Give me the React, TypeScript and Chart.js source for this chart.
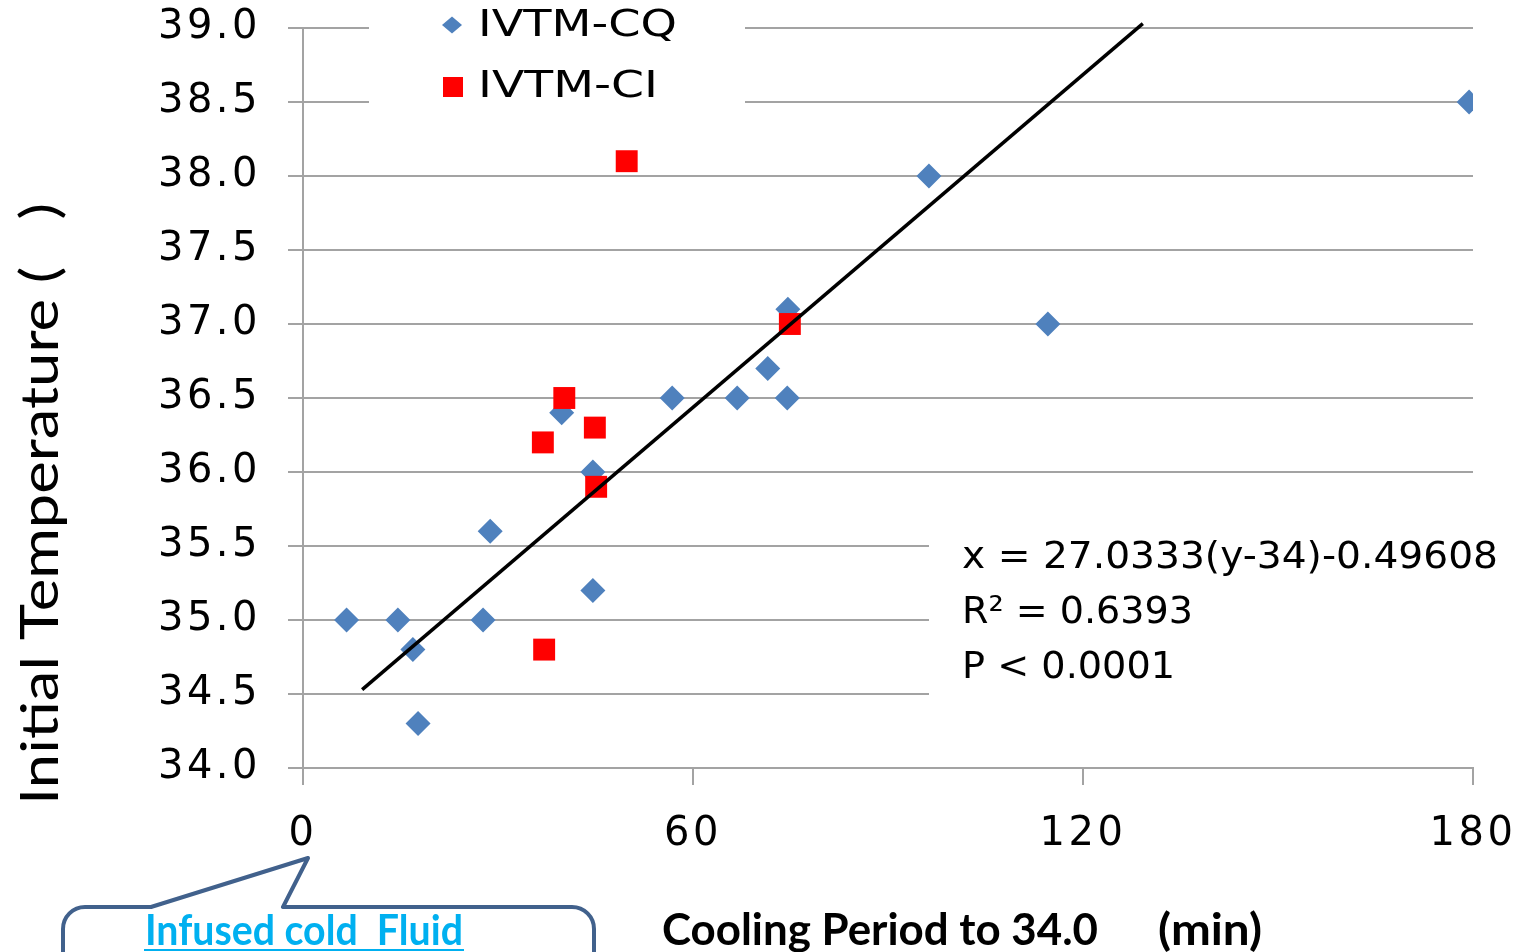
import React, { useEffect, useRef } from "react";
import { Chart, registerables } from "chart.js";

Chart.register(...registerables);

// IVTM-CQ (blue diamonds): cooling period (min) vs initial temperature
const cqX = [6.7, 14.6, 16.9, 17.7, 27.7, 28.8, 39.8, 44.6, 44.6, 56.8, 66.8, 71.5, 74.5, 74.6, 96.3, 114.6, 179.4];
const cqY = [35.0, 35.0, 34.8, 34.3, 35.0, 35.6, 36.4, 36.0, 35.2, 36.5, 36.5, 36.7, 36.5, 37.1, 38.0, 37.0, 38.5];
// IVTM-CI (red squares)
const ciX = [36.9, 40.2, 44.9, 45.1, 37.1, 49.8, 74.9];
const ciY = [36.2, 36.5, 36.3, 35.9, 34.8, 38.1, 37.0];
// regression line end points as drawn
const trendX = [9.1, 129.2];
const trendY = [34.53, 39.03];

const xTicks = [0, 60, 120, 180];
const yTicks = [34.0, 34.5, 35.0, 35.5, 36.0, 36.5, 37.0, 37.5, 38.0, 38.5, 39.0];

const seriesNames = ["IVTM-CQ", "IVTM-CI"];
const eqLines = ["x = 27.0333(y-34)-0.49608", "R\u00B2 = 0.6393", "P < 0.0001"];
const yTitle = "Initial Temperature (   )";
const xTitleMain = "Cooling Period to 34.0";
const xTitleUnit = "(min)";
const calloutText = "Infused cold  Fluid";

const BLUE = "#4f81bd";
const RED = "#ff0000";
const GRID = "#a3a3a3";

function fitText(ctx: CanvasRenderingContext2D, text: string, x: number, y: number, w: number) {
  const m = ctx.measureText(text).width;
  const s = w / m;
  ctx.save();
  ctx.translate(x, y);
  ctx.scale(s, 1);
  ctx.fillText(text, 0, 0);
  ctx.restore();
}

const decor = {
  id: "decor",
  beforeDraw(chart: any) {
    (chart.ctx as any).letterSpacing = "3.5px";
  },
  beforeDatasetsDraw(chart: any) {
    const ctx = chart.ctx as CanvasRenderingContext2D;
    ctx.save();
    ctx.fillStyle = "#ffffff";
    ctx.fillRect(369, 0, 376, 118);
    ctx.fillRect(929, 528, 594, 176);
    ctx.restore();
  },
  afterDraw(chart: any) {
    const ctx = chart.ctx as CanvasRenderingContext2D;
    ctx.save();
    (ctx as any).letterSpacing = "0px";
    ctx.fillStyle = "#000";
    ctx.textAlign = "left";

    // legend
    ctx.fillStyle = BLUE;
    ctx.beginPath();
    ctx.moveTo(442, 25);
    ctx.lineTo(452, 16.5);
    ctx.lineTo(462, 25);
    ctx.lineTo(452, 33.5);
    ctx.closePath();
    ctx.fill();
    ctx.fillStyle = RED;
    ctx.fillRect(443, 77, 20, 20);
    ctx.fillStyle = "#000";
    ctx.font = "38px 'DejaVu Sans'";
    ctx.textBaseline = "middle";
    fitText(ctx, seriesNames[0], 478, 26, 199);
    fitText(ctx, seriesNames[1], 478, 87, 180);

    // regression annotation
    ctx.font = "38px 'DejaVu Sans'";
    fitText(ctx, eqLines[0], 962, 558, 536);
    fitText(ctx, eqLines[1], 962, 613, 231);
    fitText(ctx, eqLines[2], 962, 668, 213);

    // y title (rotated)
    ctx.textBaseline = "alphabetic";
    ctx.font = "52px Lato";
    ctx.save();
    ctx.translate(58, 805);
    ctx.rotate(-Math.PI / 2);
    fitText(ctx, yTitle, 0, 0, 602);
    ctx.restore();

    // x title
    ctx.font = "bold 44px Lato";
    fitText(ctx, xTitleMain, 662, 945, 436);
    fitText(ctx, xTitleUnit, 1158, 945, 104);

    // callout bubble
    ctx.strokeStyle = "#41618c";
    ctx.lineWidth = 4;
    ctx.lineJoin = "round";
    ctx.beginPath();
    ctx.moveTo(63, 970);
    ctx.lineTo(63, 929);
    ctx.arcTo(63, 907, 85, 907, 22);
    ctx.lineTo(151, 907);
    ctx.lineTo(308, 858);
    ctx.lineTo(283, 907);
    ctx.lineTo(572, 907);
    ctx.arcTo(594, 907, 594, 929, 22);
    ctx.lineTo(594, 970);
    ctx.stroke();

    ctx.fillStyle = "#00b0f0";
    ctx.font = "bold 42px Lato";
    fitText(ctx, calloutText, 145, 945, 318);
    ctx.fillRect(144, 949, 320, 2);

    ctx.restore();
    (ctx as any).letterSpacing = "0px";
  },
};

export default function App() {
  const ref = useRef<HTMLCanvasElement>(null);
  useEffect(() => {
    document.body.style.margin = "0";
    const tickFont = { family: "'DejaVu Sans'", size: 40 };
    const chart = new Chart(ref.current as HTMLCanvasElement, {
      type: "scatter",
      data: {
        datasets: [
          {
            label: seriesNames[0],
            data: cqX.map((x, i) => ({ x, y: cqY[i] })),
            pointStyle: "rectRot",
            pointRadius: 12.5,
            backgroundColor: BLUE,
            borderColor: BLUE,
            borderWidth: 0,
            order: 2,
          },
          {
            label: seriesNames[1],
            data: ciX.map((x, i) => ({ x, y: ciY[i] })),
            pointStyle: "rect",
            pointRadius: 15.5,
            backgroundColor: RED,
            borderColor: RED,
            borderWidth: 0,
            order: 1,
          },
          {
            label: "trend",
            data: trendX.map((x, i) => ({ x, y: trendY[i] })),
            showLine: true,
            borderColor: "#000",
            borderWidth: 3.5,
            pointRadius: 0,
            clip: false,
            order: 0,
          } as any,
        ],
      },
      options: {
        responsive: false,
        animation: false,
        events: [],
        layout: { padding: { top: 28, right: 50, left: 0, bottom: 0 } },
        plugins: { legend: { display: false }, tooltip: { enabled: false } },
        scales: {
          x: {
            type: "linear",
            min: 0,
            max: 180,
            afterBuildTicks: (s: any) => {
              s.ticks = xTicks.map((v) => ({ value: v }));
            },
            afterFit: (s: any) => {
              s.height = 184;
              s.paddingLeft = 0;
              s.paddingRight = 0;
            },
            grid: { drawOnChartArea: false, color: GRID, lineWidth: 2, tickLength: 17 },
            border: { color: GRID, width: 2 },
            ticks: { font: tickFont, color: "#000", padding: 26, maxRotation: 0, autoSkip: false },
          },
          y: {
            type: "linear",
            min: 34,
            max: 39,
            afterBuildTicks: (s: any) => {
              s.ticks = yTicks.map((v) => ({ value: v }));
            },
            afterFit: (s: any) => {
              s.width = 303;
              s.paddingTop = 0;
              s.paddingBottom = 0;
            },
            grid: { color: GRID, lineWidth: 2, tickLength: 15 },
            border: { color: GRID, width: 2 },
            ticks: {
              font: tickFont,
              color: "#000",
              padding: 27,
              autoSkip: false,
              callback: (v: any) => Number(v).toFixed(1),
            },
          },
        },
      },
      plugins: [decor as any],
    });
    return () => chart.destroy();
  }, []);
  return (
    <div style={{ position: "absolute", left: 0, top: 0, width: 1523, height: 952, background: "#fff" }}>
      <canvas ref={ref} width={1523} height={952} style={{ display: "block" }} />
    </div>
  );
}
